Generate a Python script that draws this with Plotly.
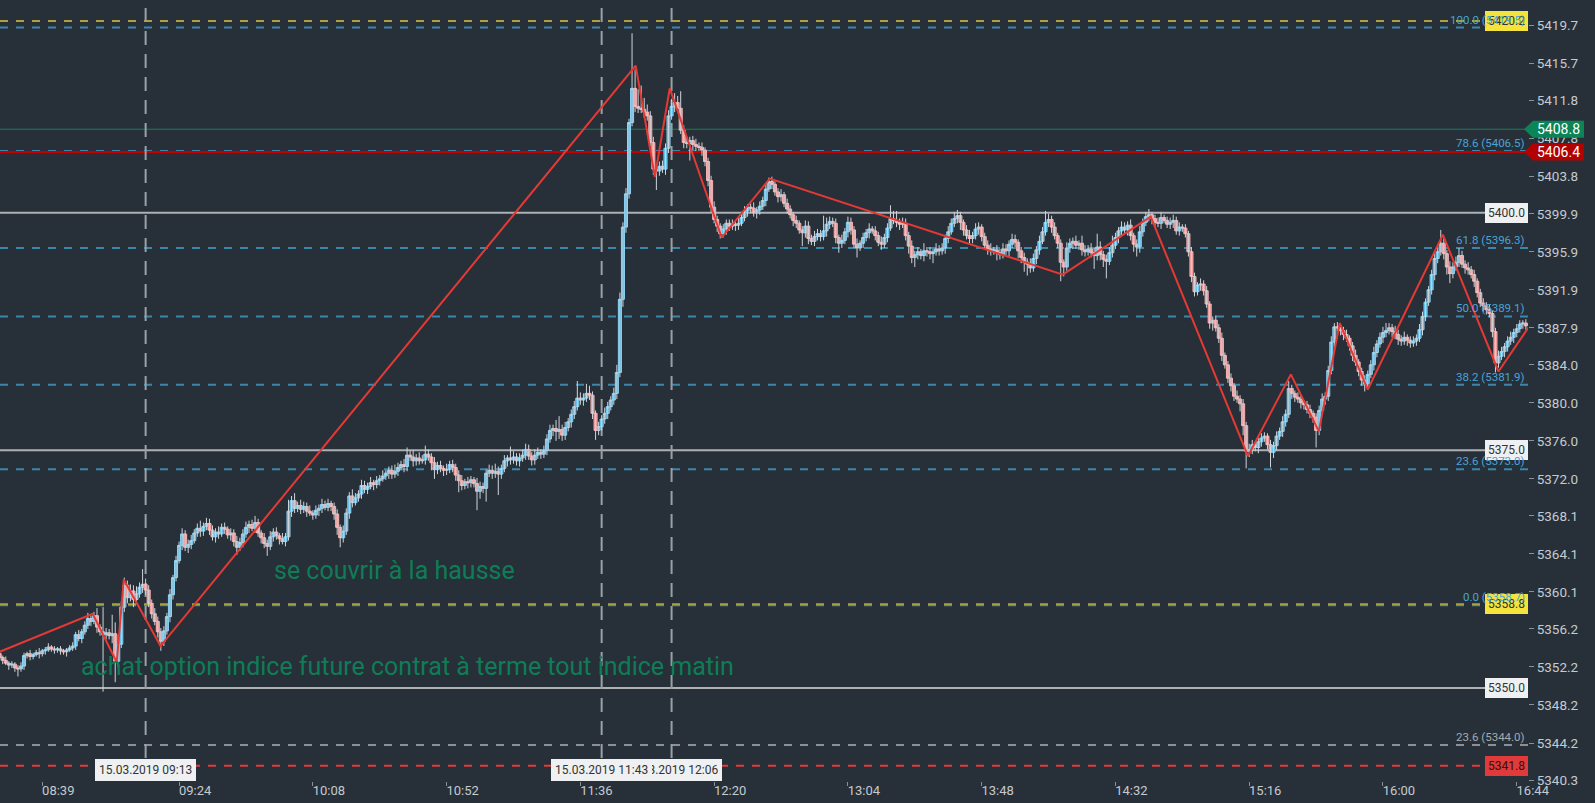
import pandas as pd
import plotly.graph_objects as go

# ---------------- data ----------------
session_start = "2019-03-15 08:25"
first_open = 5353.6

# 1-minute closes, 08:25 -> 16:47
close_str = """
5353.2 5352.9 5352.6 5352.4 5352.5 5352.1 5352.0 5352.3 5353.4 5353.6
5353.3 5353.5 5353.7 5353.6 5353.9 5354.0 5354.3 5354.1 5354.0 5354.1
5353.9 5353.8 5354.0 5354.2 5354.4 5355.6 5355.2 5355.9 5356.6 5357.3
5357.0 5357.6 5356.4 5355.9 5355.6 5355.8 5355.5 5355.7 5352.8 5354.6
5358.5 5360.8 5359.5 5360.2 5359.3 5359.9 5360.6 5360.9 5360.3 5358.9
5357.8 5357.0 5355.9 5354.9 5356.0 5357.5 5359.8 5361.6 5363.4 5365.0
5366.2 5364.8 5365.1 5365.5 5366.3 5366.8 5366.5 5367.0 5367.3 5366.6
5365.9 5366.4 5366.2 5366.9 5366.7 5366.1 5366.3 5365.4 5364.8 5365.3
5366.2 5366.9 5367.2 5366.8 5367.4 5366.3 5365.8 5365.2 5364.9 5365.9
5366.4 5366.0 5365.7 5365.4 5365.9 5368.6 5369.7 5368.9 5369.2 5368.8
5369.1 5368.6 5368.4 5368.2 5368.7 5368.9 5369.3 5369.0 5369.4 5369.1
5368.3 5366.9 5365.8 5366.5 5368.4 5370.2 5369.5 5370.0 5370.4 5371.3
5370.9 5371.2 5371.6 5371.4 5371.8 5372.0 5372.3 5372.6 5372.9 5372.5
5372.8 5373.2 5373.5 5373.3 5374.5 5374.3 5373.9 5374.2 5373.9 5374.0
5374.6 5374.3 5373.7 5373.0 5373.4 5373.1 5372.9 5373.0 5373.5 5373.2
5372.4 5371.8 5371.3 5371.7 5371.6 5371.9 5371.5 5370.7 5371.2 5371.0
5372.6 5372.9 5372.6 5372.8 5372.5 5373.1 5373.9 5374.2 5374.0 5374.3
5373.9 5374.2 5374.5 5375.1 5374.4 5374.0 5374.5 5374.8 5374.6 5375.0
5376.2 5377.1 5377.3 5377.0 5377.2 5376.6 5377.4 5378.0 5378.8 5379.6
5380.5 5380.3 5380.5 5381.0 5380.8 5378.9 5377.1 5377.5 5378.3 5378.9
5379.6 5380.3 5381.0 5383.2 5390.9 5398.5 5402.0 5409.5 5413.1 5411.2
5411.0 5410.9 5410.6 5410.2 5407.4 5404.6 5404.4 5404.9 5404.6 5406.8
5410.2 5411.2 5411.6 5411.0 5408.7 5407.4 5407.3 5407.6 5407.2 5407.0
5406.9 5406.6 5405.4 5403.4 5400.6 5399.3 5398.6 5397.8 5398.3 5398.9
5398.6 5398.8 5398.7 5398.9 5399.5 5400.2 5400.6 5400.5 5400.0 5400.3
5400.7 5401.3 5402.5 5403.3 5403.0 5402.2 5401.7 5401.9 5401.0 5400.4
5399.8 5399.2 5398.9 5398.2 5397.9 5398.6 5397.3 5397.0 5397.5 5397.8
5397.5 5398.1 5398.8 5399.1 5398.9 5397.4 5396.8 5397.1 5398.0 5399.0
5398.2 5396.7 5396.3 5396.8 5397.4 5397.9 5398.3 5398.1 5397.6 5396.9
5396.7 5397.4 5398.4 5399.4 5399.2 5399.0 5398.8 5398.9 5397.6 5396.5
5395.3 5395.6 5395.9 5395.5 5396.0 5395.9 5395.7 5395.9 5396.2 5396.0
5396.3 5397.3 5398.0 5398.9 5399.4 5399.7 5399.0 5398.2 5397.6 5397.3
5397.6 5398.3 5398.5 5397.5 5396.6 5396.2 5396.0 5396.1 5395.8 5395.6
5396.2 5396.0 5396.7 5397.2 5396.9 5396.0 5395.3 5394.8 5394.6 5394.2
5395.2 5396.1 5397.0 5398.0 5399.0 5399.3 5398.5 5397.6 5396.8 5394.8
5394.3 5396.3 5396.8 5397.0 5396.6 5396.8 5396.1 5395.9 5396.2 5395.8
5395.5 5396.4 5395.6 5395.1 5394.9 5395.8 5396.6 5397.4 5398.1 5398.5
5398.2 5398.7 5397.6 5396.7 5396.4 5398.0 5399.0 5399.6 5399.8 5399.4
5399.0 5398.9 5399.5 5399.2 5398.8 5399.0 5399.2 5398.1 5398.5 5398.4
5397.8 5395.9 5393.3 5391.7 5392.4 5392.5 5391.8 5390.4 5388.4 5388.7
5387.9 5386.8 5385.0 5384.0 5382.6 5381.8 5380.7 5380.4 5379.9 5377.6
5374.9 5375.1 5375.6 5375.3 5375.9 5376.3 5376.5 5375.6 5374.8 5375.5
5376.5 5377.0 5378.0 5378.8 5381.5 5381.0 5380.6 5380.4 5380.0 5379.8
5379.3 5378.9 5378.5 5377.1 5379.2 5380.4 5380.7 5383.4 5386.4 5388.0
5387.9 5387.6 5387.2 5386.8 5386.0 5385.0 5384.3 5383.3 5382.4 5382.0
5383.0 5384.0 5385.3 5386.2 5386.9 5387.4 5387.6 5387.9 5387.5 5387.2
5386.7 5386.5 5386.9 5386.6 5386.3 5386.5 5386.8 5387.7 5389.1 5390.6
5391.9 5393.5 5395.2 5395.9 5396.8 5395.7 5394.3 5393.6 5394.3 5394.8
5395.5 5394.6 5394.2 5394.0 5393.5 5392.8 5391.6 5390.5 5390.2 5389.8
5389.4 5387.5 5384.2 5384.9 5385.4 5385.9 5386.5 5386.9 5387.4 5387.8
5388.3 5388.4 5388.1
"""

# upper / lower wick lengths, in tenths of a point
upper_wick_str = """
3 2 4 2 3 2 3 4 3 2  4 2 3 5 2 3 4 2 3 2  3 2 2 3 4 3 5 3 4 6  3 4 8 3 26 5 4 20 12 10
6 8 5 7 6 8 5 16 6 5  4 6 5 4 5 4 6 3 5 4  6 4 5 6 4 5 8 4 6 5  5 4 6 4 5 3 5 4 6 5
5 6 4 5 7 4 3 5 4 6  4 5 3 6 4 12 5 8 4 6  5 4 6 3 5 4 6 4 5 3  4 5 3 6 5 4 7 5 4 6
5 4 6 3 5 4 6 3 4 5  7 5 4 6 8 5 7 4 6 5  9 5 4 6 4 5 3 6 4 5  4 5 6 3 5 4 3 6 5 4
4 6 5 8 5 4 6 3 12 6  4 5 6 6 5 4 6 5 3 5  5 6 4 9 14 5 6 4 5 6  18 6 5 10 8 4 3 5 4 6
5 4 6 8 7 5 6 4 58 20  18 24 12 8 5 6 4 5 6 5  6 8 10 7 18 5 6 4 5 6  4 5 3 4 5 6 4 3 5 4
4 5 3 6 4 5 3 4 6 3  5 4 6 4 5 3 4 6 3 5  4 3 5 3 4 6 5 4 6 5  4 16 7 5 4 5 3 6 4 6
5 4 6 3 5 4 6 3 5 4  6 4 5 14 8 10 4 6 5 4  6 4 5 3 8 4 5 3 6 4  5 4 6 5 7 6 4 3 5 6
4 6 5 3 4 5 6 3 5 4  6 5 4 6 5 3 4 5 4 6  5 4 6 5 12 6 4 5 3 4  3 6 5 4 6 3 8 5 4 6
5 14 6 4 5 6 10 5 4 6  5 4 6 3 5 6 4 5 6 3  4 5 6 3 4 5 6 4 5 3  4 3 5 4 3 6 4 5 3 4
5 4 6 3 4 5 3 6 4 5  4 6 5 3 6 5 4 3 5 4  5 4 6 5 8 4 3 5 4 3  4 5 3 4 5 6 4 5 6 4
5 3 4 5 3 4 6 3 4 5  4 5 6 4 5 6 8 5 4 6  5 4 6 3 4 5 4 6 5 4  4 5 6 5 14 5 4 6 5 6
8 5 4 6 4 5 3 4 5 4  5 3 4 6 5 4 5 6 4 5  4 3 4
"""
lower_wick_str = """
3 4 2 5 3 4 8 3 4 3  4 3 2 5 3 4 2 3 4 3  4 3 5 2 3 4 3 5 3 4  5 3 6 4 60 5 4 8 22 6
4 5 6 4 8 5 4 6 5 4  5 4 6 10 5 4 6 5 4 3  5 4 6 5 3 4 6 5 4 5  4 6 5 3 5 4 6 5 8 4
5 4 6 3 5 4 6 5 10 4  5 4 6 3 5 4 6 5 4 5  4 6 3 5 4 6 5 3 4 5  6 8 10 5 4 6 5 3 4 5
4 5 3 6 4 5 3 4 6 5  4 5 3 6 5 4 6 5 4 3  5 4 8 10 5 4 6 5 4 5  6 12 5 4 6 5 4 20 8 5
14 4 6 5 22 5 4 6 5 4  5 6 4 5 4 6 5 4 5 4  5 4 6 10 8 6 5 4 6 5  4 5 6 4 5 6 10 5 4 5
6 4 5 6 5 8 6 5 4 6  5 4 6 5 4 6 20 5 4 6  5 4 6 5 4 6 5 18 6 5  4 6 5 6 5 4 6 5 4 6
5 4 6 5 3 4 6 5 4 6  5 4 6 3 5 4 6 5 4 5  4 6 5 4 14 5 6 4 5 4  5 4 6 5 4 6 10 5 4 6
5 4 10 3 5 4 6 3 5 4  6 4 5 3 4 5 6 4 5 8  6 10 5 4 6 5 6 10 4 5  4 6 5 3 4 5 8 6 4 5
5 4 6 5 4 6 5 4 8 5  4 5 6 4 5 8 6 10 12 5  4 6 5 3 4 5 6 4 5 20  10 4 5 6 4 5 6 5 4 5
14 5 6 8 18 4 5 4 6 5  4 6 5 8 10 6 5 4 5 6  5 4 6 3 4 5 6 4 5 4  4 5 6 5 4 6 5 4 6 8
4 5 6 4 5 6 5 4 8 10  18 6 5 4 6 5 4 5 16 6  5 4 6 5 4 6 5 4 6 5  4 5 6 18 5 4 6 5 4 5
4 5 6 4 5 6 4 5 6 8  5 4 6 5 4 6 5 4 6 5  6 5 4 6 5 4 5 4 6 5  4 5 6 5 4 6 8 10 5 4
5 4 6 5 4 6 5 4 6 5  4 6 10 5 4 6 5 4 6 5  4 5 4
"""

# zigzag pivots
zigzag_times = ["08:25:00", "08:55:36", "09:03:30", "09:05:48", "09:17:54",
                "11:54:12", "12:00:30", "12:05:24", "12:22:30", "12:38:18",
                "14:14:42", "14:43:36", "15:15:36", "15:29:42", "15:38:54",
                "15:45:48", "15:55:00", "16:19:42", "16:38:00", "16:48:00"]
zigzag_prices = [5353.8, 5357.8, 5352.7, 5361.4, 5354.4,
                 5415.5, 5403.8, 5413.1, 5397.4, 5403.6,
                 5393.5, 5399.6, 5374.4, 5383.0, 5377.0,
                 5388.4, 5381.4, 5397.7, 5383.3, 5388.0]

# fibonacci retracement
fib_levels = [100.0, 78.6, 61.8, 50.0, 38.2, 23.6, 0.0]
fib_prices = [5419.5, 5406.5, 5396.3, 5389.1, 5381.9, 5373.0, 5358.7]

round_levels = [5400.0, 5375.0, 5350.0]
yellow_levels = [5420.2, 5358.8]
green_level = 5408.8
red_level = 5406.4
gray_level = 5344.0
gray_label = "23.6 (5344.0)"
red_dashed_level = 5341.8

vline_times = ["09:13", "12:06", "11:43"]
vline_labels = ["15.03.2019 09:13", "15.03.2019 12:06", "15.03.2019 11:43"]

x_tick_times = ["08:39", "09:24", "10:08", "10:52", "11:36", "12:20",
                "13:04", "13:48", "14:32", "15:16", "16:00", "16:44"]
y_tick_labels = ["5340.3", "5344.2", "5348.2", "5352.2", "5356.2", "5360.1",
                 "5364.1", "5368.1", "5372.0", "5376.0", "5380.0", "5384.0",
                 "5387.9", "5391.9", "5395.9", "5399.9", "5403.8", "5407.8",
                 "5411.8", "5415.7", "5419.7"]

text_notes = ["se couvrir à la hausse",
              "achat option indice future contrat à terme tout indice matin"]
text_note_times = ["09:54:36", "08:51:12"]
text_note_prices = [5362.4, 5352.3]

# ---------------- build ----------------
day = "2019-03-15 "
closes = [float(v) for v in close_str.split()]
uw = [int(v) for v in upper_wick_str.split()]
lw = [int(v) for v in lower_wick_str.split()]
n = min(len(closes), len(uw), len(lw))
closes = closes[:n]
opens = [first_open] + closes[:-1]
body_top = [max(o, c) for o, c in zip(opens, closes)]
body_bot = [min(o, c) for o, c in zip(opens, closes)]
highs = [b + u / 10 for b, u in zip(body_top, uw)]
lows = [b - l / 10 for b, l in zip(body_bot, lw)]
times = pd.date_range(session_start, periods=n, freq="min")

BG = "#273038"
FONT = "Roboto"
fig = go.Figure()

# wicks (high-low) in light grey
wx, wy = [], []
for t, h, l in zip(times, highs, lows):
    wx += [t, t, None]
    wy += [l, h, None]
fig.add_trace(go.Scatter(x=wx, y=wy, mode="lines", line=dict(color="#cfd4d9", width=1),
                         showlegend=False, hoverinfo="skip"))

# bodies (open/close)
fig.add_trace(go.Candlestick(
    x=times, open=opens, high=body_top, low=body_bot, close=closes,
    increasing=dict(line=dict(color="#8fd3f2", width=1), fillcolor="#45b2e6"),
    decreasing=dict(line=dict(color="#f6b3b3", width=1), fillcolor="#ef8c8c"),
    whiskerwidth=0, showlegend=False, hoverinfo="skip"))

fig.add_trace(go.Scatter(
    x=[day + t for t in zigzag_times], y=zigzag_prices, mode="lines",
    line=dict(color="#e53935", width=2), showlegend=False, hoverinfo="skip"))

shapes = []
annotations = []


def hline(y, color, width=2, dash=None):
    shapes.append(dict(type="line", xref="paper", x0=0, x1=1, yref="y", y0=y, y1=y,
                       layer="below", line=dict(color=color, width=width, dash=dash)))


def box(y, text, bg, fg, size=12):
    annotations.append(dict(xref="paper", x=1, xanchor="right", yref="y", y=y,
                            text=text, showarrow=False, bgcolor=bg, bordercolor=bg,
                            borderwidth=1, borderpad=2,
                            font=dict(family=FONT, size=size, color=fg)))


for p in round_levels:
    hline(p, "#aeb1b4", 2)
hline(green_level, "#15805e", 1)
for p in fib_prices:
    hline(p, "#3a86ad", 2, "8px,8px")
hline(red_level, "#c40000", 2)
for p in yellow_levels:
    hline(p, "#aca23a", 2, "8px,8px")
hline(gray_level, "#8b9096", 2, "8px,8px")
hline(red_dashed_level, "#e23b3b", 2, "8px,8px")

for t in vline_times:
    shapes.append(dict(type="line", xref="x", x0=day + t, x1=day + t, yref="paper",
                       y0=0, y1=1, layer="below",
                       line=dict(color="#9aa0a6", width=2, dash="14px,9px")))

# text notes
for txt, t, p in zip(text_notes, text_note_times, text_note_prices):
    annotations.append(dict(x=day + t, y=p, xref="x", yref="y", text=txt,
                            showarrow=False, xanchor="left", yanchor="middle",
                            font=dict(family=FONT, size=25, color="#0e7d57")))

# right side boxes
for p in round_levels:
    box(p, f"{p:.1f}", "#eef0f2", "#333333")
box(yellow_levels[0], f"{yellow_levels[0]:.1f}", "#f3e33c", "#333333")
box(yellow_levels[1], f"{yellow_levels[1]:.1f}", "#f3e33c", "#333333")
box(red_dashed_level, f"{red_dashed_level:.1f}", "#e03a3a", "#3a0c0c")

for lvl, p in zip(fib_levels, fib_prices):
    annotations.append(dict(xref="paper", x=1, xanchor="right", xshift=-1, yref="y",
                            y=p, yshift=8, text=f"{lvl:.1f} ({p:.1f})",
                            showarrow=False,
                            font=dict(family=FONT, size=11.5, color="#4aa3d6")))
annotations.append(dict(xref="paper", x=1, xanchor="right", xshift=-1, yref="y",
                        y=gray_level, yshift=8, text=gray_label, showarrow=False,
                        font=dict(family=FONT, size=11.5, color="#a4a9ae")))

# price tags on the axis
PLOT_W = 1528.0
for p, col in [(green_level, "#0b8457"), (red_level, "#b30000")]:
    hh = 0.9
    tip, left, right = 1524 / PLOT_W, 1533 / PLOT_W, 1584 / PLOT_W
    path = (f"M {tip},{p} L {left},{p + hh} L {right},{p + hh} "
            f"L {right},{p - hh} L {left},{p - hh} Z")
    shapes.append(dict(type="path", xref="paper", yref="y", path=path,
                       fillcolor=col, line=dict(width=0), layer="above"))
    annotations.append(dict(xref="paper", x=(left + right) / 2, xanchor="center",
                            yref="y", y=p, text=f"{p:.1f}", showarrow=False,
                            font=dict(family=FONT, size=14, color="#ffffff")))

# vertical line date boxes
for t, lab in zip(vline_times, vline_labels):
    annotations.append(dict(xref="x", x=day + t, yref="y", y=5341.35, text=lab,
                            showarrow=False, bgcolor="#eef0f2", bordercolor="#eef0f2",
                            borderpad=3, xanchor="center",
                            font=dict(family=FONT, size=12, color="#333333")))

fig.update_layout(
    width=1595, height=803,
    margin=dict(l=0, r=67, t=0, b=22, autoexpand=False),
    paper_bgcolor=BG, plot_bgcolor=BG,
    shapes=shapes, annotations=annotations,
    showlegend=False, boxgap=0.0, boxgroupgap=0.0,
    xaxis=dict(
        type="date", rangeslider=dict(visible=False), automargin=False,
        range=[day + "08:25:06", day + "16:47:42"],
        showgrid=False, zeroline=False, showline=False,
        tickvals=[day + t for t in x_tick_times], ticktext=x_tick_times,
        ticks="outside", ticklen=4, tickcolor="#8a9096",
        tickfont=dict(family=FONT, size=13, color="#c5cad0"),
        ticklabelshift=16, ticklabelstandoff=-7,
    ),
    yaxis=dict(
        side="right", range=[5340.2, 5422.4], automargin=False,
        showgrid=False, zeroline=False, showline=False,
        tickvals=[float(v) for v in y_tick_labels], ticktext=y_tick_labels,
        ticks="outside", ticklen=5, tickcolor="#8a9096",
        tickfont=dict(family=FONT, size=13.5, color="#c5cad0"),
    ),
)

fig.write_html("out.html", config={"displayModeBar": False},
               post_script="document.body.style.margin='0';"
                           "document.body.style.background='" + BG + "';")
